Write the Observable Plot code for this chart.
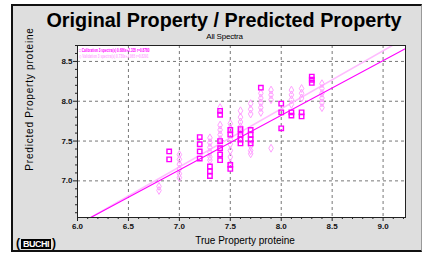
<!DOCTYPE html>
<html>
<head>
<meta charset="utf-8">
<script src="https://cdn.jsdelivr.net/npm/d3@7"></script>
<script src="https://cdn.jsdelivr.net/npm/@observablehq/plot@0.6"></script>
<style>
  html, body { margin: 0; padding: 0; background: #ffffff; }
  body { width: 422px; height: 255px; position: relative; overflow: hidden; font-family: "Liberation Sans", Arial, sans-serif; }
  #panel { position: absolute; left: 11px; top: 4px; width: 408px; height: 244px; background: #dedede;
           border-top: 2px solid #111; border-left: 2px solid #111; border-bottom: 2px solid #111; border-right: 1px solid #999; }
  #chart { position: absolute; left: 0; top: 0; }
  .t { position: absolute; white-space: nowrap; color: #000; }
  #title { left: 0; width: 448px; text-align: center; top: 10px; font-size: 19.8px; line-height: 20px; font-weight: bold; }
  #sub { left: 0; width: 449px; text-align: center; top: 33px; font-size: 8px; line-height: 8px; letter-spacing: -0.2px; }
  #ylab { left: 30px; top: 99px; font-size: 10px; line-height: 10px; letter-spacing: 0.8px; transform: translate(-50%, -50%) rotate(-90deg); }
  #xlab { left: 0; width: 490px; text-align: center; top: 236px; font-size: 10px; line-height: 10px; }
  #logo { left: 16px; top: 237px; font-size: 12px; line-height: 12px; font-weight: bold; }
  #logo span { background: #000; color: #fff; font-size: 9px; padding: 0 2px; margin: 0 1px; letter-spacing: -0.5px; }
  #legend { position: absolute; left: 79px; top: 47px; font-size: 5px; line-height: 6px; font-weight: bold; transform: scaleX(0.62); transform-origin: 0 0; }
</style>
</head>
<body>
<div id="panel"></div>
<div id="chart"></div>
<div class="t" id="title">Original Property / Predicted Property</div>
<div class="t" id="sub">All Spectra</div>
<div class="t" id="ylab">Predicted Property proteine</div>
<div class="t" id="xlab">True Property proteine</div>
<div class="t" id="logo">(<span>BUCHI</span>)</div>
<div class="t" id="legend">
  <div style="color:#ff00ff">&#9633; Calibration 3 spectra(s) 0.686x+2.335 r=0.8780</div>
  <div style="color:#ffa8ff">&#9671; Validation 3 spectra(s) 0.730x+2.065 r=0.8291</div>
</div>
<script>
// ---- data ----
const calX = [6.9, 6.9,
  7.2, 7.2, 7.2, 7.2,
  7.3, 7.3, 7.3,
  7.4, 7.4, 7.4, 7.4, 7.4, 7.4,
  7.5, 7.5, 7.5, 7.5,
  7.6, 7.6, 7.6, 7.6,
  7.7, 7.7, 7.7, 7.7,
  7.8,
  8.0, 8.0, 8.0,
  8.1, 8.1,
  8.2, 8.2,
  8.3, 8.3, 8.3];
const calY = [7.37, 7.27,
  7.55, 7.46, 7.37, 7.28,
  7.18, 7.12, 7.06,
  7.88, 7.83, 7.50, 7.41, 7.33, 7.26,
  7.64, 7.58, 7.20, 7.15,
  7.65, 7.58, 7.52, 7.47,
  7.64, 7.58, 7.52, 7.47,
  8.17,
  7.97, 7.86, 7.66,
  7.86, 7.82,
  7.86, 7.81,
  8.31, 8.27, 8.23];

const valX = [6.8, 6.8,
  7.0, 7.0, 7.0, 7.0, 7.0, 7.0,
  7.3, 7.3, 7.3, 7.3, 7.3, 7.3,
  7.4, 7.4, 7.4, 7.4, 7.4, 7.4, 7.4, 7.4,
  7.5, 7.5, 7.5, 7.5, 7.5, 7.5, 7.5,
  7.6, 7.6, 7.6, 7.6, 7.6, 7.6,
  7.7, 7.7, 7.7, 7.7, 7.7, 7.7,
  7.8, 7.8, 7.8, 7.8, 7.8,
  7.9, 7.9, 7.9, 7.9,
  8.1, 8.1, 8.1, 8.1,
  8.2, 8.2, 8.2,
  8.4, 8.4, 8.4, 8.4, 8.4, 8.4];
const valY = [6.93, 6.88,
  7.33, 7.27, 7.21, 7.15, 7.09, 7.04,
  7.54, 7.48, 7.42, 7.36, 7.30, 7.26,
  7.92, 7.70, 7.64, 7.58, 7.52, 7.46, 7.40, 7.34,
  7.72, 7.66, 7.52, 7.46, 7.38, 7.30, 7.22,
  7.88, 7.80, 7.74, 7.68, 7.62, 7.56,
  7.97, 7.90, 7.84, 7.44, 7.38, 7.34,
  8.10, 8.04, 7.98, 7.92, 7.86,
  8.14, 8.08, 8.02, 7.41,
  8.14, 8.08, 8.02, 7.96,
  8.16, 8.10, 8.04,
  8.22, 8.16, 8.10, 8.04, 7.98, 7.92];

// regression lines (endpoints)
const calLineX = [6.13, 9.22];
const calLineY = [6.54, 8.66];
const valLineX = [6.13, 9.09];
const valLineY = [6.54, 8.70];

// ticks
const xMajor = [6.0, 6.5, 7.0, 7.5, 8.0, 8.5, 9.0];
const xMinor = [6.1, 6.2, 6.3, 6.4, 6.6, 6.7, 6.8, 6.9, 7.1, 7.2, 7.3, 7.4, 7.6, 7.7, 7.8, 7.9,
  8.1, 8.2, 8.3, 8.4, 8.6, 8.7, 8.8, 8.9, 9.1, 9.2];
const yMajor = [7.0, 7.5, 8.0, 8.5];
const yMinor = [6.6, 6.7, 6.8, 6.9, 7.1, 7.2, 7.3, 7.4, 7.6, 7.7, 7.8, 7.9, 8.1, 8.2, 8.3, 8.4, 8.6, 8.7];

const cal = calX.map((x, i) => ({x, y: calY[i]}));
const val = valX.map((x, i) => ({x, y: valY[i]}));
const calLine = calLineX.map((x, i) => ({x, y: calLineY[i]}));
const valLine = valLineX.map((x, i) => ({x, y: valLineY[i]}));

const chart = Plot.plot({
  width: 422,
  height: 255,
  marginLeft: 77,
  marginRight: 17,
  marginTop: 45,
  marginBottom: 38,
  style: { background: "transparent", fontFamily: "Liberation Sans, Arial, sans-serif", fontSize: "8px", color: "#111" },
  x: { domain: [6.0, 9.22], label: null },
  y: { domain: [6.54, 8.7], label: null },
  marks: [
    Plot.frame({ fill: "white" }),
    Plot.gridX(xMajor.filter(d => d > 6.0), { stroke: "#777", strokeOpacity: 1, strokeDasharray: "3,3" }),
    Plot.gridY(yMajor, { stroke: "#777", strokeOpacity: 1, strokeDasharray: "3,3" }),
    Plot.axisX(xMinor, { tickSize: 2, tickFormat: () => "", stroke: "#222", label: null }),
    Plot.axisX(xMajor, { tickSize: 4, tickPadding: 2, tickFormat: d3.format(".1f"), fontWeight: "bold", stroke: "#222", label: null }),
    Plot.axisY(yMinor, { tickSize: 2, tickFormat: () => "", stroke: "#222", label: null }),
    Plot.axisY(yMajor, { tickSize: 4, tickPadding: 1, tickFormat: d3.format(".1f"), fontWeight: "bold", stroke: "#222", label: null }),
    Plot.line(valLine, { x: "x", y: "y", stroke: "#ffbcff", strokeWidth: 1.5, clip: true }),
    Plot.dot(val, { x: "x", y: "y", symbol: "diamond", r: 2.4, stroke: "#ffa0ff", strokeWidth: 1, fill: "none" }),
    Plot.dot(cal, { x: "x", y: "y", symbol: "square", r: 2.5, stroke: "#ff00ff", strokeWidth: 1.4, fill: "none" }),
    Plot.line(calLine, { x: "x", y: "y", stroke: "#ff00ff", strokeWidth: 1.1, clip: true }),
    Plot.frame({ stroke: "#222" })
  ]
});
document.getElementById("chart").appendChild(chart);
</script>
</body>
</html>
